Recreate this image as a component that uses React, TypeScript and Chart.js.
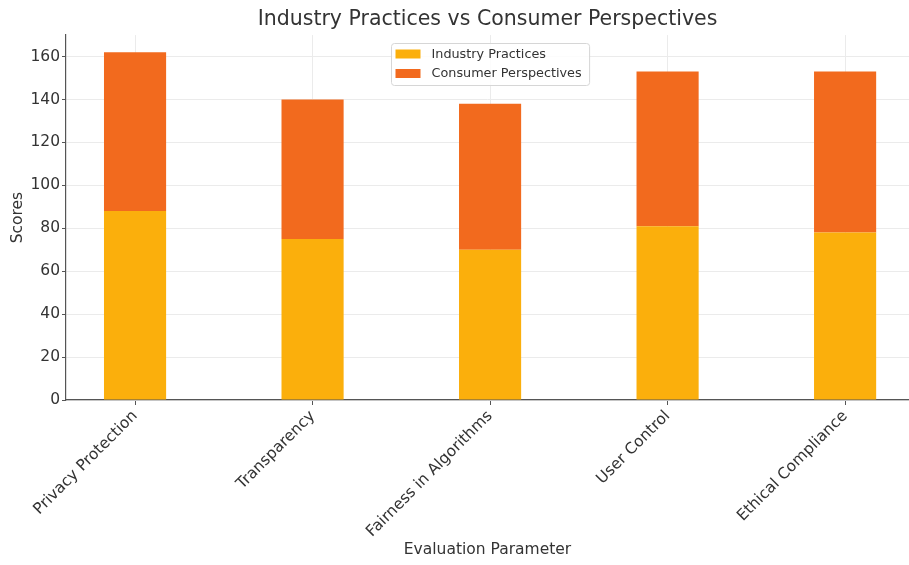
import React, { useEffect, useRef } from "react";
import { Chart, registerables } from "chart.js";

Chart.register(...registerables);

const categories = [
  "Privacy Protection",
  "Transparency",
  "Fairness in Algorithms",
  "User Control",
  "Ethical Compliance",
];
const industryPractices = [88, 75, 70, 81, 78];
const consumerPerspectives = [74, 65, 68, 72, 75];
const yTicks = [0, 20, 40, 60, 80, 100, 120, 140, 160];
const seriesLabels = ["Industry Practices", "Consumer Perspectives"];
const seriesColors = ["#FBAF0C", "#F26A1E"];
const titleText = "Industry Practices vs Consumer Perspectives";
const xTitle = "Evaluation Parameter";
const yTitle = "Scores";

const FONT = '"DejaVu Sans", sans-serif';

const insideLegend = {
  id: "insideLegend",
  afterDraw(chart: any) {
    const { ctx, chartArea } = chart;
    const items = chart.data.datasets.map((d: any) => ({ label: d.label, color: d.backgroundColor }));
    ctx.save();
    ctx.font = `12.8px ${FONT}`;
    const textW = Math.max(...items.map((it: any) => ctx.measureText(it.label).width));
    const w = 40 + textW + 8;
    const h = 42;
    const cx = (chartArea.left + chartArea.right) / 2 + 3;
    const x0 = Math.round(cx - w / 2) + 0.5;
    const y0 = Math.round(chartArea.top + 8) + 0.5;
    ctx.beginPath();
    const r = 3;
    ctx.moveTo(x0 + r, y0);
    ctx.lineTo(x0 + w - r, y0);
    ctx.arcTo(x0 + w, y0, x0 + w, y0 + r, r);
    ctx.lineTo(x0 + w, y0 + h - r);
    ctx.arcTo(x0 + w, y0 + h, x0 + w - r, y0 + h, r);
    ctx.lineTo(x0 + r, y0 + h);
    ctx.arcTo(x0, y0 + h, x0, y0 + h - r, r);
    ctx.lineTo(x0, y0 + r);
    ctx.arcTo(x0, y0, x0 + r, y0, r);
    ctx.closePath();
    ctx.fillStyle = "rgba(255,255,255,0.85)";
    ctx.fill();
    ctx.strokeStyle = "#d6d6d6";
    ctx.lineWidth = 1;
    ctx.stroke();
    items.forEach((it: any, i: number) => {
      const cy = y0 + 10.5 + i * 19.5;
      ctx.fillStyle = it.color;
      ctx.fillRect(x0 + 4, cy - 4.5, 25, 9);
      ctx.fillStyle = "#333333";
      ctx.textBaseline = "middle";
      ctx.textAlign = "left";
      ctx.fillText(it.label, x0 + 40, cy + 0.5);
    });
    ctx.restore();
  },
};

export default function App() {
  const canvasRef = useRef<HTMLCanvasElement | null>(null);

  useEffect(() => {
    if (!canvasRef.current) return;
    const chart = new Chart(canvasRef.current, {
      type: "bar",
      data: {
        datasets: [
          {
            label: seriesLabels[0],
            data: industryPractices.map((v, i) => ({ x: i, y: v })),
            backgroundColor: seriesColors[0],
            borderWidth: 0,
          },
          {
            label: seriesLabels[1],
            data: consumerPerspectives.map((v, i) => ({ x: i, y: v })),
            backgroundColor: seriesColors[1],
            borderWidth: 0,
          },
        ],
      },
      options: {
        animation: false,
        responsive: false,
        devicePixelRatio: 1,
        layout: { padding: 0 },
        datasets: { bar: { categoryPercentage: 1, barPercentage: 0.35 } } as any,
        plugins: {
          legend: { display: false },
          tooltip: { enabled: false },
          title: {
            display: true,
            text: titleText,
            fullSize: false,
            color: "#333333",
            font: { family: FONT, size: 20.5, weight: "normal" as any },
            padding: { top: 7, bottom: 3.5 },
          },
        },
        scales: {
          x: {
            type: "linear",
            stacked: true,
            offset: false,
            min: -0.389,
            max: 4.36,
            afterBuildTicks: (scale: any) => {
              scale.ticks = categories.map((_, i) => ({ value: i }));
            },
            afterFit: (scale: any) => {
              scale.height = 165;
            },
            ticks: {
              autoSkip: false,
              minRotation: 45,
              maxRotation: 45,
              padding: 2,
              color: "#333333",
              font: { family: FONT, size: 15.5 },
              callback: (v: any) => categories[v] ?? "",
            },
            grid: {
              offset: false,
              color: "#ebebeb",
              tickColor: "#555555",
              tickLength: 5,
              drawOnChartArea: true,
            },
            border: { color: "#555555", width: 1.2 },
            title: {
              display: true,
              text: xTitle,
              color: "#333333",
              font: { family: FONT, size: 15.5 },
              padding: { top: 0, bottom: 5.7 },
            },
          },
          y: {
            type: "linear",
            stacked: true,
            min: 0,
            max: 170,
            afterBuildTicks: (scale: any) => {
              scale.ticks = yTicks.map((v) => ({ value: v }));
            },
            afterFit: (scale: any) => {
              scale.width = 66;
            },
            ticks: {
              stepSize: 20,
              padding: 2,
              color: "#333333",
              font: { family: FONT, size: 15.5 },
            },
            grid: {
              color: "#ebebeb",
              tickColor: "#555555",
              tickLength: 4,
            },
            border: { color: "#555555", width: 1.2 },
            title: {
              display: true,
              text: yTitle,
              color: "#333333",
              font: { family: FONT, size: 15.5 },
              padding: { top: 9, bottom: 0 },
            },
          },
        },
      },
      plugins: [insideLegend],
    });
    return () => chart.destroy();
  }, []);

  return (
    <div style={{ position: "fixed", left: 0, top: 0, width: 909, height: 565, background: "#fff" }}>
      <canvas ref={canvasRef} width={909} height={565} />
    </div>
  );
}
